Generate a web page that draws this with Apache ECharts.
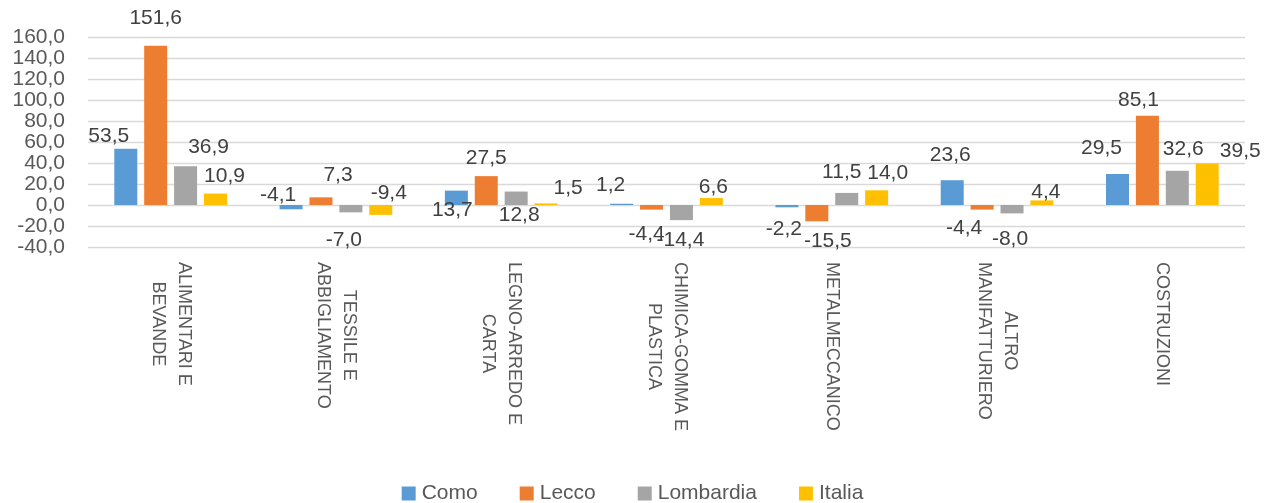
<!DOCTYPE html>
<html>
<head>
<meta charset="utf-8">
<script src="https://cdn.jsdelivr.net/npm/echarts@6/dist/echarts.min.js"></script>
<style>html,body{margin:0;padding:0;background:#fff}#c{width:1265px;height:503px}</style>
</head>
<body>
<div id="c"></div>
<script>
const categories = ['ALIMENTARI E\nBEVANDE', 'TESSILE E\nABBIGLIAMENTO', 'LEGNO-ARREDO E\nCARTA', 'CHIMICA-GOMMA E\nPLASTICA', 'METALMECCANICO', 'ALTRO\nMANIFATTURIERO', 'COSTRUZIONI'];
const seriesNames = ['Como', 'Lecco', 'Lombardia', 'Italia'];
const como      = [53.5, -4.1, 13.7, 1.2, -2.2, 23.6, 29.5];
const lecco     = [151.6, 7.3, 27.5, -4.4, -15.5, -4.4, 85.1];
const lombardia = [36.9, -7.0, 12.8, -14.4, 11.5, -8.0, 32.6];
const italia    = [10.9, -9.4, 1.5, 6.6, 14.0, 4.4, 39.5];
const yTicks = { min: -40, max: 160, interval: 20 };

// label nudges (style only), per series, per category
const labelNudges = [
  [[-17, 3], [-13, -30], [-4, 35], [-11, -3], [-3, 6], [-2, -10], [-16, -10]],
  [[0, -12], [17, -7], [0, -2], [-5, 9], [11, 4], [-18, 3], [-9, 0]],
  [[23, -4], [-7, 12], [3, 39], [-1, 5], [-5, -5], [-2, 10], [6, -6]],
  [[9, -2], [8, -37], [22, 0], [2, 5], [11, -2], [4, 7], [33, 3]]
];
const colors = ['#5b9bd5', '#ed7d31', '#a5a5a5', '#ffc000'];
const values = [como, lecco, lombardia, italia];
const FONT = 'Liberation Sans';
const fmt = v => Number(v).toFixed(1).replace('.', ',');

const chart = echarts.init(document.getElementById('c'), null, { renderer: 'canvas' });
chart.setOption({
  animation: false,
  color: colors,
  grid: { left: 88, right: 20, top: 37, bottom: 256, containLabel: false },
  legend: {
    data: seriesNames,
    left: 'center',
    top: 478,
    itemWidth: 14,
    itemHeight: 14,
    itemGap: 42,
    icon: 'rect',
    textStyle: { fontFamily: FONT, fontSize: 21, color: '#595959', padding: [0, 0, 0, 1] }
  },
  xAxis: {
    type: 'category',
    data: categories,
    axisLine: { show: false, onZero: false },
    axisTick: { show: false },
    axisLabel: {
      interval: 0,
      rotate: -90,
      margin: 15,
      formatter: v => v.split('\n').map(s => '{a|' + s + '}').join('\n'),
      rich: { a: { align: 'center', fontFamily: FONT, fontSize: 18, color: '#595959', lineHeight: 26 } }
    }
  },
  yAxis: {
    type: 'value',
    min: yTicks.min,
    max: yTicks.max,
    interval: yTicks.interval,
    axisLine: { show: false },
    axisTick: { show: false },
    splitLine: { lineStyle: { color: '#d9d9d9', width: 1.3 } },
    axisLabel: { formatter: fmt, fontFamily: FONT, fontSize: 21, color: '#595959', margin: 23 }
  },
  series: seriesNames.map((name, si) => ({
    name,
    type: 'bar',
    barWidth: 23,
    barGap: '30%',
    data: values[si].map((v, ci) => ({
      value: v,
      label: { position: v >= 0 ? 'top' : 'bottom', offset: labelNudges[si][ci] }
    })),
    label: {
      show: true,
      distance: 5,
      formatter: p => fmt(p.value),
      fontFamily: FONT,
      fontSize: 21,
      color: '#404040'
    }
  }))
});
</script>
</body>
</html>
